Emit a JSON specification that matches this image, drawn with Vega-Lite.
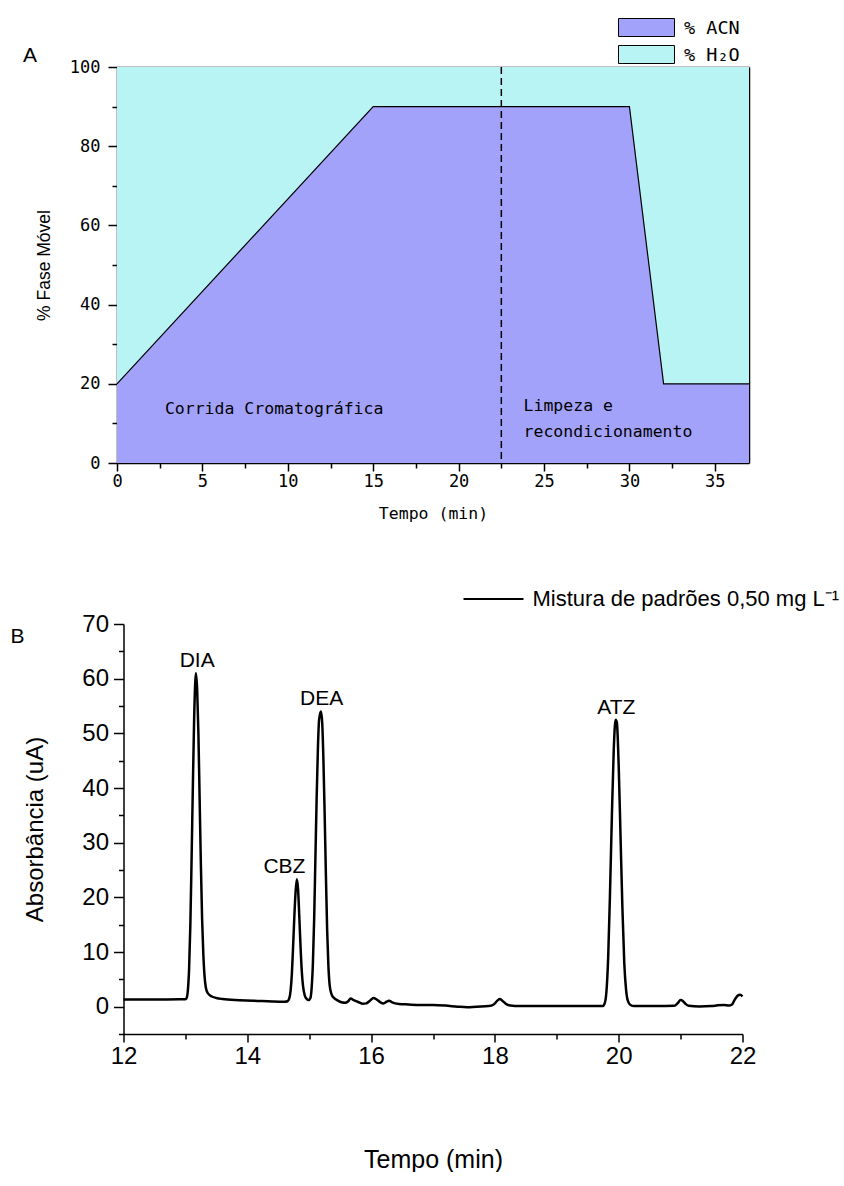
{
"$schema": "https://vega.github.io/schema/vega-lite/v6.json",
"background": "white",
"padding": {"left": 10, "top": 18, "right": 0, "bottom": 0},
"bounds": "flush",
"center": true,
"spacing": 161,
"config": {
  "font": "Liberation Sans",
  "view": {"stroke": null},
  "axis": {"grid": false, "domainColor": "black", "tickColor": "black", "labelColor": "black", "titleColor": "black", "titleFontWeight": "normal", "zindex": 1, "labelFlush": false},
  "title": {"color": "black", "fontWeight": "normal"},
  "legend": {"labelColor": "black"}
},
"resolve": {"scale": {"fill": "independent", "stroke": "independent"}, "legend": {"fill": "independent", "stroke": "independent"}},
"vconcat": [
{
  "width": 632, "height": 396,
  "title": {"text": "A", "anchor": "start", "frame": "group", "orient": "top", "offset": 0, "baseline": "alphabetic", "dx": -94, "dy": 65, "fontSize": 21, "font": "Liberation Sans", "fontWeight": "normal"},
  "data": {"values": [{"tempo": 0, "acn": 20}, {"tempo": 15, "acn": 90}, {"tempo": 30, "acn": 90}, {"tempo": 32, "acn": 20}, {"tempo": 37, "acn": 20}]},
  "layer": [
    {"mark": {"type": "area"},
     "encoding": {
       "x": {"field": "tempo", "type": "quantitative", "scale": {"domain": [0, 37], "nice": false, "zero": false},
             "axis": {"orient": "bottom", "values": [0, 5, 10, 15, 20, 25, 30, 35], "tickSize": 8, "tickWidth": 1.5, "domainWidth": 1.5, "labelFont": "DejaVu Sans Mono", "labelFontSize": 17, "labelPadding": 2, "title": "Tempo   (min)", "titleFont": "DejaVu Sans Mono", "titleFontSize": 16.5, "titlePadding": 16}},
       "y": {"field": "acn", "type": "quantitative", "scale": {"domain": [0, 100], "nice": false},
             "axis": {"orient": "left", "values": [0, 20, 40, 60, 80, 100], "tickSize": 9, "tickWidth": 1.5, "domainWidth": 1.5, "labelFont": "DejaVu Sans Mono", "labelFontSize": 17, "labelPadding": 8, "title": "% Fase Móvel", "titleFontSize": 17.5, "titlePadding": 16}},
       "y2": {"datum": 100},
       "fill": {"datum": "% H₂O", "scale": {"domain": ["% ACN", "% H₂O"], "range": ["#A3A2FB", "#B8F4F4"]},
                "legend": {"orient": "none", "legendX": 520, "legendY": -49, "title": null, "direction": "vertical", "symbolType": "M-3.11,-1H3.11V1H-3.11Z", "symbolSize": 324, "symbolStrokeColor": "black", "symbolStrokeWidth": 1, "symbolOpacity": 1, "labelFont": "DejaVu Sans Mono", "labelFontSize": 18.5, "labelOffset": 28, "rowPadding": 4, "padding": 0}}
     }},
    {"mark": {"type": "area"},
     "encoding": {
       "x": {"field": "tempo", "type": "quantitative", "axis": {"orient": "bottom", "values": [2.5, 7.5, 12.5, 17.5, 22.5, 27.5, 32.5], "tickSize": 5, "tickWidth": 1.5, "labels": false, "domain": false, "title": null}},
       "y": {"field": "acn", "type": "quantitative", "axis": {"orient": "left", "values": [10, 30, 50, 70, 90], "tickSize": 5, "tickWidth": 1.5, "labels": false, "domain": false, "title": null}},
       "fill": {"datum": "% ACN"}
     }},
    {"mark": {"type": "line", "color": "black", "strokeWidth": 1.2},
     "encoding": {
       "x": {"field": "tempo", "type": "quantitative", "axis": {"orient": "top", "ticks": false, "labels": false, "title": null, "domainWidth": 1.5}},
       "y": {"field": "acn", "type": "quantitative", "axis": {"orient": "right", "ticks": false, "labels": false, "title": null, "domainWidth": 1.5}}
     }},
    {"data": {"values": [{}]},
     "mark": {"type": "rule", "strokeDash": [7, 4], "color": "black", "strokeWidth": 1.5},
     "encoding": {"x": {"datum": 22.5, "type": "quantitative", "axis": null}}},
    {"data": {"values": [{}]},
     "mark": {"type": "text", "text": "Corrida Cromatográfica", "font": "DejaVu Sans Mono", "fontSize": 16.5, "align": "center", "baseline": "middle", "color": "black"},
     "encoding": {"x": {"datum": 9.2, "type": "quantitative", "axis": null}, "y": {"datum": 13.6, "type": "quantitative", "axis": null}}},
    {"data": {"values": [{}]},
     "mark": {"type": "text", "text": "Limpeza e", "font": "DejaVu Sans Mono", "fontSize": 16.5, "align": "left", "baseline": "middle", "color": "black"},
     "encoding": {"x": {"datum": 23.8, "type": "quantitative", "axis": null}, "y": {"datum": 14.4, "type": "quantitative", "axis": null}}},
    {"data": {"values": [{}]},
     "mark": {"type": "text", "text": "recondicionamento", "font": "DejaVu Sans Mono", "fontSize": 16.5, "align": "left", "baseline": "middle", "color": "black"},
     "encoding": {"x": {"datum": 23.8, "type": "quantitative", "axis": null}, "y": {"datum": 7.8, "type": "quantitative", "axis": null}}}
  ],
  "resolve": {"axis": {"x": "independent", "y": "independent"}}
},
{
  "width": 619, "height": 410,
  "title": {"text": "B", "anchor": "start", "frame": "group", "orient": "top", "offset": 0, "baseline": "alphabetic", "dx": -113, "dy": 96, "fontSize": 21, "font": "Liberation Sans", "fontWeight": "normal"},
  "layer": [
    {"data": {"values": [
      {"t": 12.0, "abs": 1.3}, {"t": 12.5, "abs": 1.3}, {"t": 12.9, "abs": 1.35}, {"t": 13.0, "abs": 1.35},
      {"t": 13.02, "abs": 1.6}, {"t": 13.04, "abs": 3}, {"t": 13.06, "abs": 7}, {"t": 13.08, "abs": 15}, {"t": 13.1, "abs": 27},
      {"t": 13.12, "abs": 40}, {"t": 13.14, "abs": 52}, {"t": 13.16, "abs": 59.5}, {"t": 13.17, "abs": 61}, {"t": 13.19, "abs": 58},
      {"t": 13.21, "abs": 50}, {"t": 13.23, "abs": 38}, {"t": 13.25, "abs": 26}, {"t": 13.27, "abs": 16}, {"t": 13.29, "abs": 9.5},
      {"t": 13.31, "abs": 5.5}, {"t": 13.33, "abs": 3.5}, {"t": 13.36, "abs": 2.5}, {"t": 13.42, "abs": 1.9}, {"t": 13.5, "abs": 1.6},
      {"t": 13.6, "abs": 1.4}, {"t": 13.8, "abs": 1.2}, {"t": 14.1, "abs": 1.1}, {"t": 14.4, "abs": 0.95}, {"t": 14.6, "abs": 0.9},
      {"t": 14.65, "abs": 1.0}, {"t": 14.68, "abs": 1.6}, {"t": 14.7, "abs": 3}, {"t": 14.72, "abs": 6}, {"t": 14.74, "abs": 11},
      {"t": 14.76, "abs": 16.5}, {"t": 14.78, "abs": 21}, {"t": 14.8, "abs": 23.3}, {"t": 14.82, "abs": 21.5}, {"t": 14.84, "abs": 16.5},
      {"t": 14.86, "abs": 11}, {"t": 14.88, "abs": 6.5}, {"t": 14.9, "abs": 3.8}, {"t": 14.93, "abs": 2.0}, {"t": 14.96, "abs": 1.4},
      {"t": 14.99, "abs": 1.2}, {"t": 15.02, "abs": 1.6}, {"t": 15.04, "abs": 3.5}, {"t": 15.06, "abs": 8}, {"t": 15.08, "abs": 16},
      {"t": 15.1, "abs": 27}, {"t": 15.12, "abs": 38}, {"t": 15.14, "abs": 47}, {"t": 15.16, "abs": 52.5}, {"t": 15.19, "abs": 54},
      {"t": 15.21, "abs": 52}, {"t": 15.23, "abs": 45}, {"t": 15.25, "abs": 35}, {"t": 15.27, "abs": 24}, {"t": 15.29, "abs": 14},
      {"t": 15.31, "abs": 7.5}, {"t": 15.33, "abs": 4}, {"t": 15.36, "abs": 2.3}, {"t": 15.4, "abs": 1.6}, {"t": 15.45, "abs": 1.2},
      {"t": 15.52, "abs": 0.8}, {"t": 15.58, "abs": 0.7}, {"t": 15.63, "abs": 1.0}, {"t": 15.67, "abs": 1.5}, {"t": 15.72, "abs": 1.2},
      {"t": 15.78, "abs": 0.9}, {"t": 15.86, "abs": 0.55}, {"t": 15.92, "abs": 0.6}, {"t": 15.98, "abs": 1.1}, {"t": 16.04, "abs": 1.6},
      {"t": 16.09, "abs": 1.3}, {"t": 16.15, "abs": 0.8}, {"t": 16.2, "abs": 0.6}, {"t": 16.25, "abs": 0.9}, {"t": 16.29, "abs": 1.1},
      {"t": 16.34, "abs": 0.8}, {"t": 16.45, "abs": 0.5}, {"t": 16.6, "abs": 0.4}, {"t": 16.8, "abs": 0.3}, {"t": 17.0, "abs": 0.3},
      {"t": 17.2, "abs": 0.2}, {"t": 17.4, "abs": 0.0}, {"t": 17.55, "abs": -0.1}, {"t": 17.7, "abs": 0.0}, {"t": 17.9, "abs": 0.1},
      {"t": 17.98, "abs": 0.4}, {"t": 18.04, "abs": 1.1}, {"t": 18.08, "abs": 1.4}, {"t": 18.12, "abs": 1.1}, {"t": 18.18, "abs": 0.5},
      {"t": 18.25, "abs": 0.2}, {"t": 18.4, "abs": 0.1}, {"t": 18.8, "abs": 0.1}, {"t": 19.3, "abs": 0.1}, {"t": 19.74, "abs": 0.1},
      {"t": 19.77, "abs": 0.5}, {"t": 19.8, "abs": 2.5}, {"t": 19.83, "abs": 9}, {"t": 19.86, "abs": 21}, {"t": 19.89, "abs": 35},
      {"t": 19.92, "abs": 47}, {"t": 19.95, "abs": 52.5}, {"t": 19.97, "abs": 52}, {"t": 20.0, "abs": 44}, {"t": 20.03, "abs": 31},
      {"t": 20.06, "abs": 18}, {"t": 20.09, "abs": 8}, {"t": 20.12, "abs": 3}, {"t": 20.15, "abs": 1.0}, {"t": 20.19, "abs": 0.3},
      {"t": 20.25, "abs": 0.1}, {"t": 20.6, "abs": 0.1}, {"t": 20.9, "abs": 0.15}, {"t": 20.95, "abs": 0.6}, {"t": 21.0, "abs": 1.2},
      {"t": 21.04, "abs": 1.0}, {"t": 21.08, "abs": 0.5}, {"t": 21.13, "abs": 0.15}, {"t": 21.3, "abs": 0.05}, {"t": 21.5, "abs": 0.1},
      {"t": 21.6, "abs": 0.25}, {"t": 21.7, "abs": 0.3}, {"t": 21.78, "abs": 0.2}, {"t": 21.83, "abs": 0.4}, {"t": 21.87, "abs": 1.2},
      {"t": 21.92, "abs": 2.0}, {"t": 21.96, "abs": 2.2}, {"t": 22.0, "abs": 1.9}
     ]},
     "mark": {"type": "line", "strokeWidth": 2.5, "interpolate": "monotone"},
     "encoding": {
       "x": {"field": "t", "type": "quantitative", "scale": {"domain": [12, 22], "nice": false, "zero": false},
             "axis": {"orient": "bottom", "values": [12, 14, 16, 18, 20, 22], "tickSize": 8, "tickWidth": 1.5, "domainWidth": 1.5, "labelFontSize": 24, "labelPadding": 2, "title": "Tempo (min)", "titleFontSize": 25, "titlePadding": 79}},
       "y": {"field": "abs", "type": "quantitative", "scale": {"domain": [-5, 70], "nice": false, "zero": false},
             "axis": {"orient": "left", "values": [0, 10, 20, 30, 40, 50, 60, 70], "tickSize": 10, "tickWidth": 1.5, "domainWidth": 1.5, "labelFontSize": 24, "labelPadding": 5, "title": "Absorbância (uA)", "titleFontSize": 24, "titlePadding": 34}},
       "stroke": {"datum": "Mistura de padrões 0,50 mg L⁻¹", "scale": {"range": ["black"]},
                  "legend": {"orient": "none", "legendX": 339, "legendY": -56, "title": null, "symbolType": "stroke", "symbolSize": 3600, "symbolStrokeWidth": 2, "symbolStrokeColor": "black", "labelFontSize": 22, "labelLimit": 600, "labelOffset": 8, "padding": 0}}
     }},
    {"data": {"values": [
      {"label": "DIA", "t": 13.19, "abs": 61},
      {"label": "CBZ", "t": 14.6, "abs": 23.3},
      {"label": "DEA", "t": 15.2, "abs": 54},
      {"label": "ATZ", "t": 19.96, "abs": 52.5}
     ]},
     "mark": {"type": "text", "fontSize": 21, "baseline": "alphabetic", "align": "center", "dy": -6, "color": "black"},
     "encoding": {
       "x": {"field": "t", "type": "quantitative", "axis": {"orient": "bottom", "values": [13, 15, 17, 19, 21], "tickSize": 5, "tickWidth": 1.5, "labels": false, "domain": false, "title": null}},
       "y": {"field": "abs", "type": "quantitative", "axis": {"orient": "left", "values": [-5, 5, 15, 25, 35, 45, 55, 65], "tickSize": 5, "tickWidth": 1.5, "labels": false, "domain": false, "title": null}},
       "text": {"field": "label"}
     }}
  ],
  "resolve": {"axis": {"x": "independent", "y": "independent"}}
}
]
}
